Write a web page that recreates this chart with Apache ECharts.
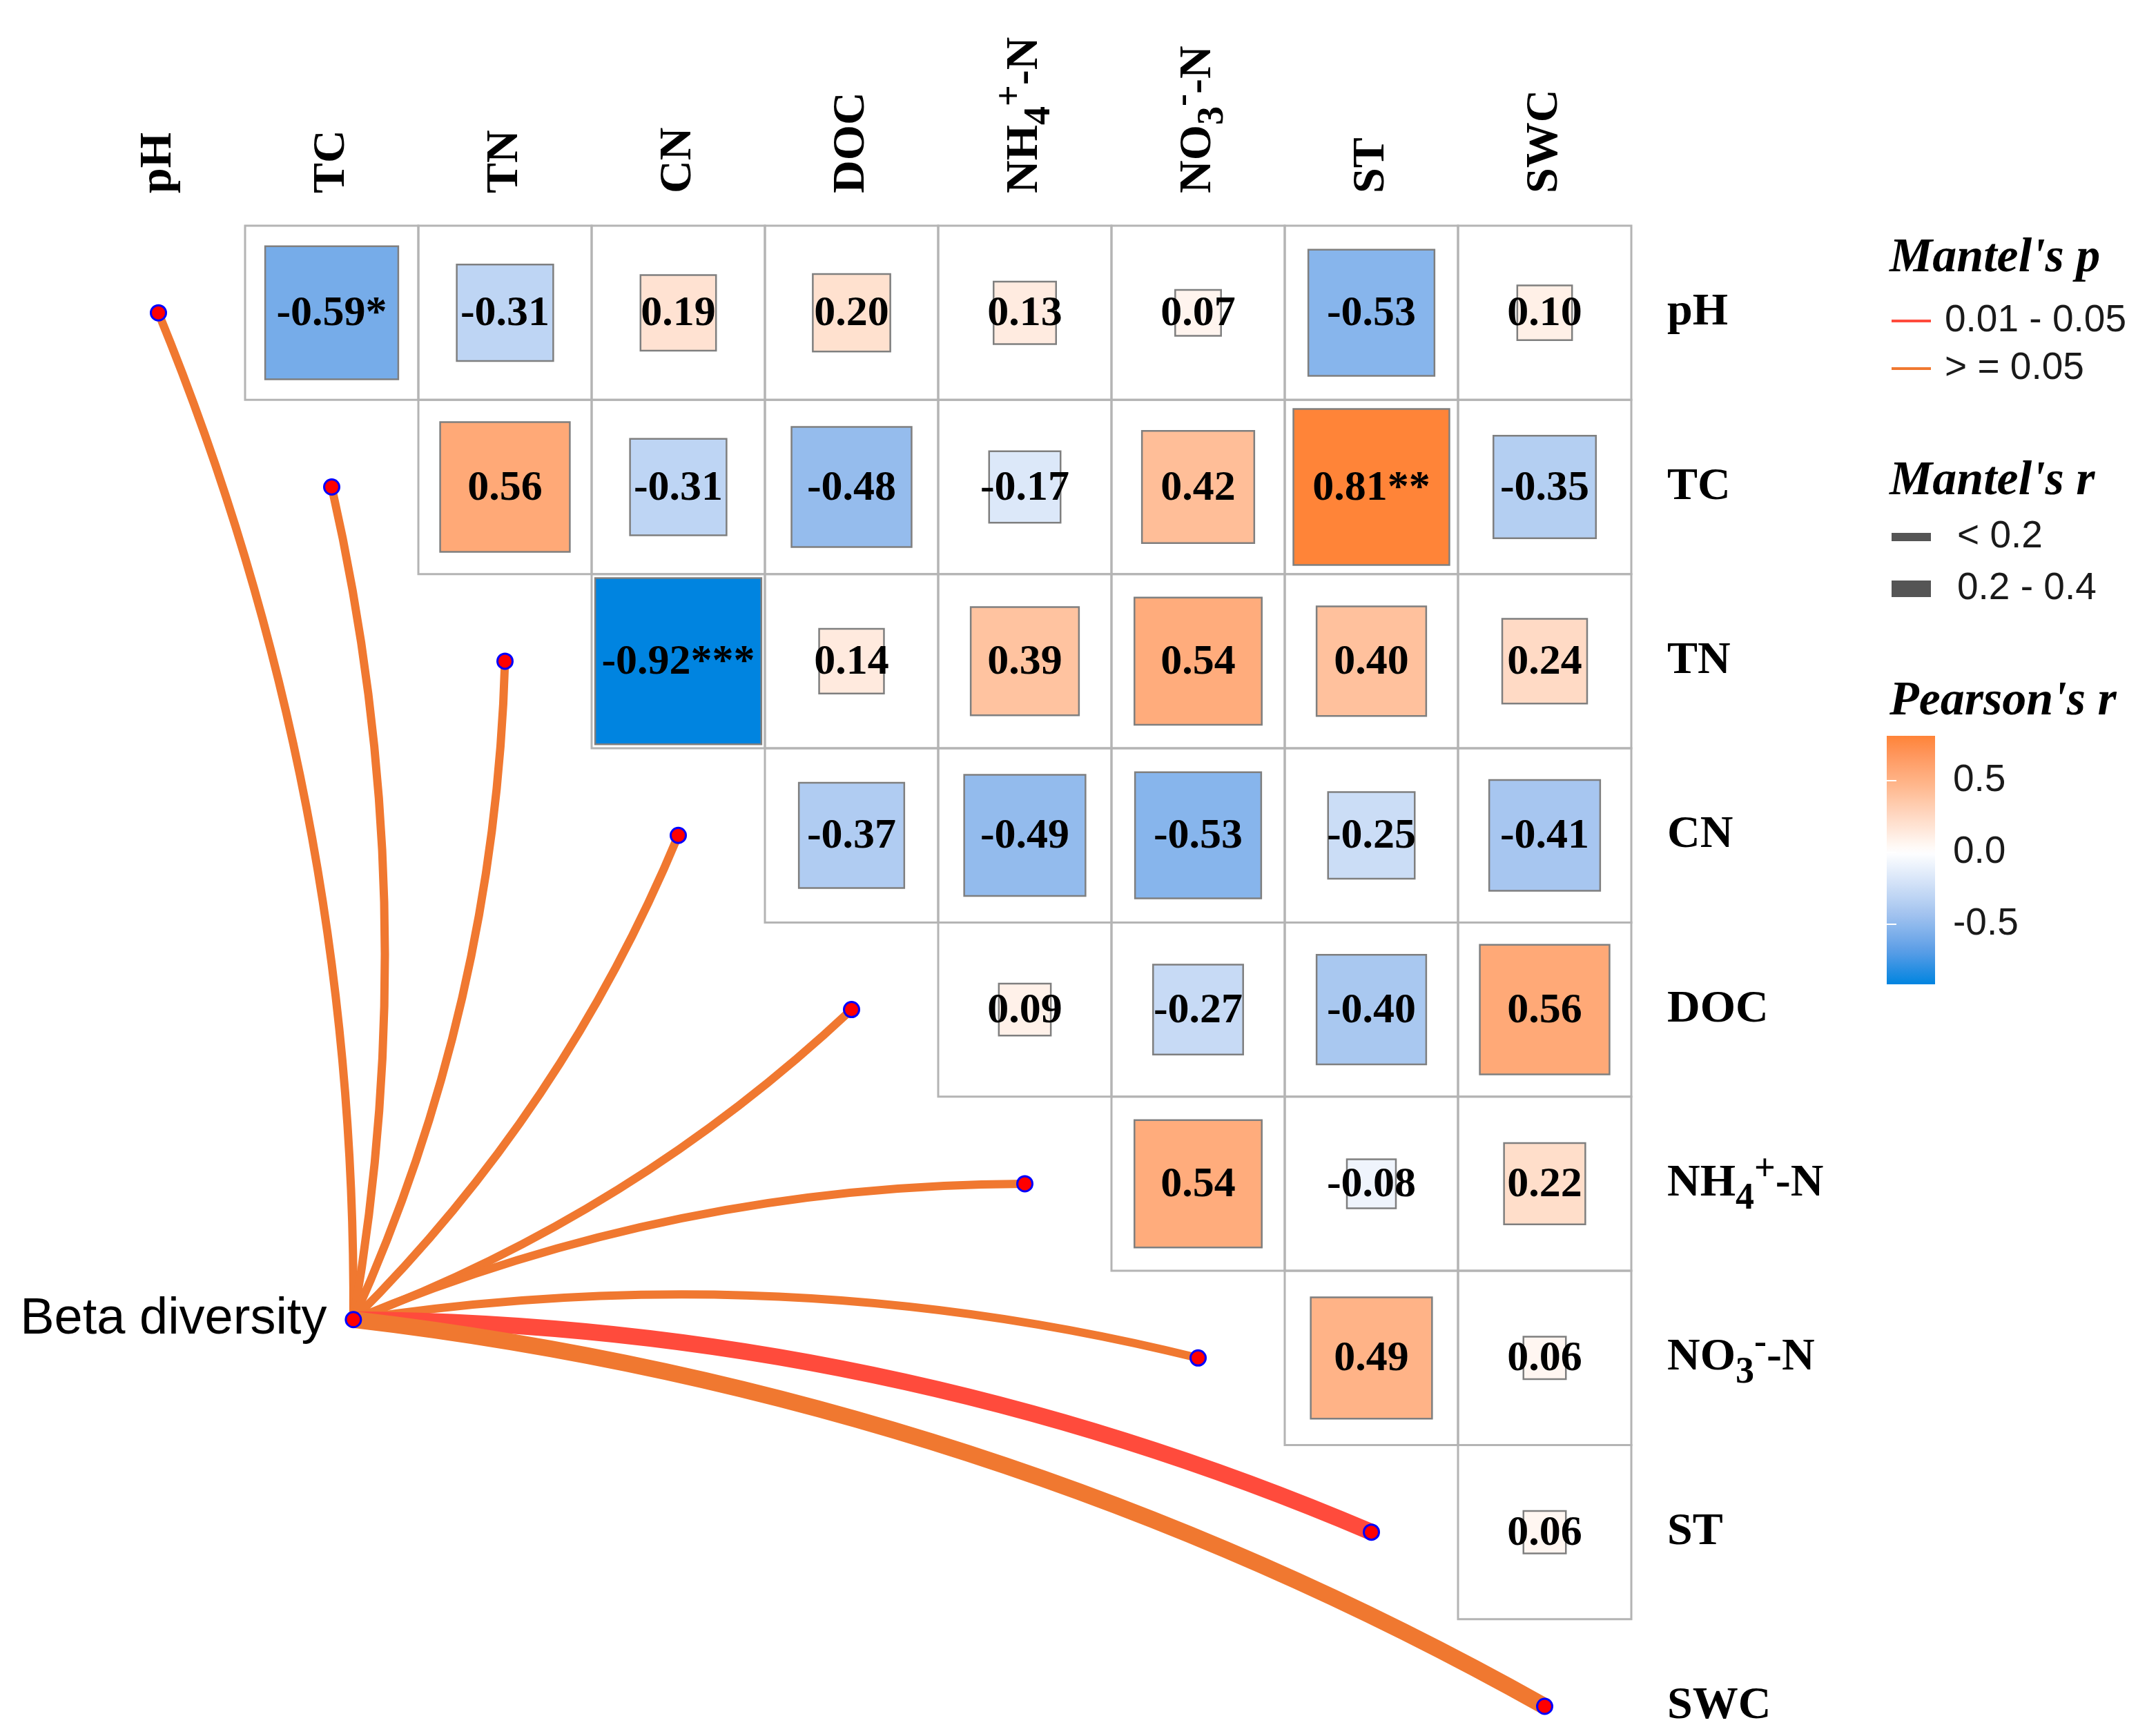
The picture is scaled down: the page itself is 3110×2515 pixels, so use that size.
<!DOCTYPE html>
<html>
<head>
<meta charset="utf-8">
<script src="https://cdn.jsdelivr.net/npm/echarts@6/dist/echarts.min.js"></script>
<style>
html, body { margin: 0; padding: 0; background: #fff; }
#chart { width: 3110px; height: 2515px; }
</style>
</head>
<body>
<div id="chart"></div>
<script>
// 变量名 (same order for rows and columns)
var varNames = ['pH', 'TC', 'TN', 'CN', 'DOC', 'NH4+-N', 'NO3--N', 'ST', 'SWC']

// Pearson's r, upper triangle: row i holds columns i+1 .. end
var pearsonRows = [
	[-0.59, -0.31, 0.19, 0.20, 0.13, 0.07, -0.53, 0.10],
	[0.56, -0.31, -0.48, -0.17, 0.42, 0.81, -0.35],
	[-0.92, 0.14, 0.39, 0.54, 0.40, 0.24],
	[-0.37, -0.49, -0.53, -0.25, -0.41],
	[0.09, -0.27, -0.40, 0.56],
	[0.54, -0.08, 0.22],
	[0.49, 0.06],
	[0.06]
]
// significance marks, same layout as pearsonRows
var starRows = [
	['*', '', '', '', '', '', '', ''],
	['', '', '', '', '', '**', ''],
	['***', '', '', '', '', ''],
	['', '', '', '', ''],
	['', '', '', ''],
	['', '', ''],
	['', ''],
	['']
]

// Mantel test: Beta diversity vs each variable
var mantelP = ['> = 0.05', '> = 0.05', '> = 0.05', '> = 0.05', '> = 0.05', '> = 0.05', '> = 0.05', '0.01 - 0.05', '> = 0.05']
var mantelR = ['< 0.2', '< 0.2', '< 0.2', '< 0.2', '< 0.2', '< 0.2', '< 0.2', '0.2 - 0.4', '0.2 - 0.4']

// legend keys
var pBins = ['0.01 - 0.05', '> = 0.05']
var rBins = ['< 0.2', '0.2 - 0.4']
var colorTicks = [-0.5, 0, 0.5]

var serif = '"Liberation Serif", "Times New Roman", serif'
var sans = '"Liberation Sans", Arial, sans-serif'
var pColors = { '0.01 - 0.05': '#FF4B3C', '> = 0.05': '#F07830' }
var rWidths = { '< 0.2': 12, '0.2 - 0.4': 24 }

// 颜色: white in the middle, blue low, orange high
var lowStops = ['#FFFFFF', '#D0E0F7', '#9BBFEE', '#5A9DE6', '#0084E0']
var highStops = ['#FFFFFF', '#FFDCC8', '#FFB88E', '#FF955A', '#FF7418']

// flatten the triangle into cells
var cellData = []
var cellStars = []
var allR = []
pearsonRows.forEach(function (row, i) {
	row.forEach(function (r, k) {
		cellData.push([i + 1 + k + 0.5, i + 0.5, r])
		cellStars.push(starRows[i][k])
		allR.push(r)
	})
})
var rMin = Math.min.apply(null, allR)
var rMax = Math.max.apply(null, allR)
var rLim = Math.max(Math.abs(rMin), Math.abs(rMax))

function hexToRgb(h) {
	return [parseInt(h.substr(1, 2), 16), parseInt(h.substr(3, 2), 16), parseInt(h.substr(5, 2), 16)]
}
function colorOf(v) {
	var stops = v < 0 ? lowStops : highStops
	var t = Math.min(Math.abs(v) / rLim, 1) * (stops.length - 1)
	var k = Math.min(Math.floor(t), stops.length - 2)
	var f = t - k
	var a = hexToRgb(stops[k]), b = hexToRgb(stops[k + 1])
	var c = a.map(function (x, j) { return Math.round(x + (b[j] - x) * f) })
	return 'rgb(' + c.join(',') + ')'
}

// NH4+-N / NO3--N with sub and superscripts
function richName(name) {
	if (name === 'NH4+-N') return '{n|NH}{sub|4}{sup|+}{n|-N}'
	if (name === 'NO3--N') return '{n|NO}{sub|3}{sup|-}{n|-N}'
	return '{n|' + name + '}'
}
var nameRich = {
	n: { fontSize: 66, fontWeight: 'bold', fontFamily: serif, color: '#000' },
	sub: { fontSize: 54, fontWeight: 'bold', fontFamily: serif, color: '#000', padding: [44, 0, 0, 0] },
	sup: { fontSize: 54, fontWeight: 'bold', fontFamily: serif, color: '#000', padding: [0, 0, 40, 0] }
}
var centers = varNames.map(function (d, i) { return i + 0.5 })
function labelOf(v) { return richName(varNames[Math.round(v - 0.5)]) }

// 节点位置 (Beta diversity anchor, in cell units)
var betaNode = [1.625, 6.28]

var links = varNames.map(function (name, i) {
	return {
		coords: [betaNode, [i + 0.5, i + 0.5]],
		lineStyle: {
			color: pColors[mantelP[i]],
			width: rWidths[mantelR[i]],
			curveness: i < varNames.length / 2 ? -0.1 : 0.1,
			opacity: 1
		}
	}
})

var nodes = varNames.map(function (name, i) { return [i + 0.5, i + 0.5] })
nodes.push({
	value: betaNode,
	label: {
		show: true, position: 'left', distance: 26, formatter: 'Beta diversity',
		fontSize: 74, fontFamily: sans, color: '#000'
	}
})

function renderCell(params, api) {
	var c = api.coord([api.value(0), api.value(1)])
	var s = api.size([1, 1])
	var r = api.value(2)
	var side = Math.sqrt(Math.abs(r)) * Math.min(s[0], s[1])
	return {
		type: 'group',
		children: [
			{
				type: 'rect',
				shape: { x: c[0] - s[0] / 2, y: c[1] - s[1] / 2, width: s[0], height: s[1] },
				style: { fill: 'none', stroke: '#B4B4B4', lineWidth: 3 }
			},
			{
				type: 'rect',
				shape: { x: c[0] - side / 2, y: c[1] - side / 2, width: side, height: side },
				style: { fill: colorOf(r), stroke: '#7F7F7F', lineWidth: 2.5 }
			},
			{
				type: 'text', x: c[0], y: c[1] + 2,
				style: {
					text: r.toFixed(2) + cellStars[params.dataIndex],
					fontSize: 62, fontWeight: 'bold', fontFamily: serif, fill: '#000',
					align: 'center', verticalAlign: 'middle'
				}
			}
		]
	}
}

function renderBar(params, api) {
	var top = api.coord([0, rMax])
	var bottom = api.coord([1, rMin])
	var stops = []
	for (var k = 0; k <= 40; k++) {
		var v = rMax - (rMax - rMin) * k / 40
		stops.push({ offset: k / 40, color: colorOf(v) })
	}
	return {
		type: 'rect',
		shape: { x: top[0], y: top[1], width: bottom[0] - top[0], height: bottom[1] - top[1] },
		style: { fill: { type: 'linear', x: 0, y: 0, x2: 0, y2: 1, colorStops: stops } }
	}
}

// legend graphics
var legendX = 2737
var keyX = 2740
var graphics = []
function legendTitle(text, y) {
	graphics.push({
		type: 'text', x: legendX, y: y,
		style: { text: text, fontSize: 70, fontWeight: 'bold', fontStyle: 'italic', fontFamily: serif, fill: '#000', align: 'left', verticalAlign: 'middle' }
	})
}
function legendLabel(text, x, y) {
	graphics.push({
		type: 'text', x: x, y: y,
		style: { text: text, fontSize: 55, fontFamily: sans, fill: '#1a1a1a', align: 'left', verticalAlign: 'middle' }
	})
}
legendTitle("Mantel's p", 375)
pBins.forEach(function (b, k) {
	var y = 465 + k * 69
	graphics.push({ type: 'rect', shape: { x: keyX, y: y - 2, width: 57, height: 4 }, style: { fill: pColors[b] } })
	legendLabel(b, 2817, y)
})
legendTitle("Mantel's r", 698)
rBins.forEach(function (b, k) {
	var y = 778 + k * 75
	var w = rWidths[b]
	graphics.push({ type: 'rect', shape: { x: keyX, y: y - w / 2, width: 57, height: w }, style: { fill: '#555555' } })
	legendLabel(b, 2835, y)
})
legendTitle("Pearson's r", 1017)

var chart = echarts.init(document.getElementById('chart'))
chart.setOption({
	backgroundColor: '#fff',
	animation: false,
	grid: [
		{ left: 104, right: 747, top: 327, bottom: 43 },
		{ left: 2733, width: 70, top: 1066, height: 360 }
	],
	xAxis: [
		{
			type: 'value', gridIndex: 0, min: 0, max: 9, position: 'top',
			axisLine: { show: false }, axisTick: { show: false }, splitLine: { show: false },
			axisLabel: { customValues: centers, rotate: 90, margin: 47, formatter: labelOf, rich: nameRich }
		},
		{ type: 'value', gridIndex: 1, min: 0, max: 1, show: false }
	],
	yAxis: [
		{
			type: 'value', gridIndex: 0, min: 0, max: 8.5, inverse: true, position: 'right',
			axisLine: { show: false }, axisTick: { show: false }, splitLine: { show: false },
			axisLabel: { customValues: centers, margin: 52, formatter: labelOf, rich: nameRich }
		},
		{
			type: 'value', gridIndex: 1, min: rMin, max: rMax, position: 'right', z: 10,
			axisLine: { show: false }, splitLine: { show: false },
			axisTick: { show: true, customValues: colorTicks, inside: true, length: 14, lineStyle: { color: '#fff', width: 2 } },
			axisLabel: {
				customValues: colorTicks, margin: 26, fontSize: 55, fontFamily: sans, color: '#1a1a1a',
				formatter: function (v) { return v.toFixed(1) }
			}
		},
		{
			type: 'value', gridIndex: 1, min: rMin, max: rMax, position: 'left', z: 10,
			axisLine: { show: false }, splitLine: { show: false }, axisLabel: { show: false },
			axisTick: { show: true, customValues: colorTicks, inside: true, length: 14, lineStyle: { color: '#fff', width: 2 } }
		}
	],
	series: [
		{
			type: 'custom', xAxisIndex: 0, yAxisIndex: 0, clip: false, z: 1,
			renderItem: renderCell, data: cellData
		},
		{
			type: 'lines', coordinateSystem: 'cartesian2d', xAxisIndex: 0, yAxisIndex: 0,
			clip: false, z: 3, data: links
		},
		{
			type: 'scatter', xAxisIndex: 0, yAxisIndex: 0, clip: false, z: 4,
			symbolSize: 22,
			itemStyle: { color: '#FF0000', borderColor: '#0000FF', borderWidth: 3, opacity: 1 },
			data: nodes
		},
		{
			type: 'custom', xAxisIndex: 1, yAxisIndex: 1, clip: false, z: 2,
			renderItem: renderBar, data: [[0.5, 0]]
		}
	],
	graphic: graphics
})
</script>
</body>
</html>
